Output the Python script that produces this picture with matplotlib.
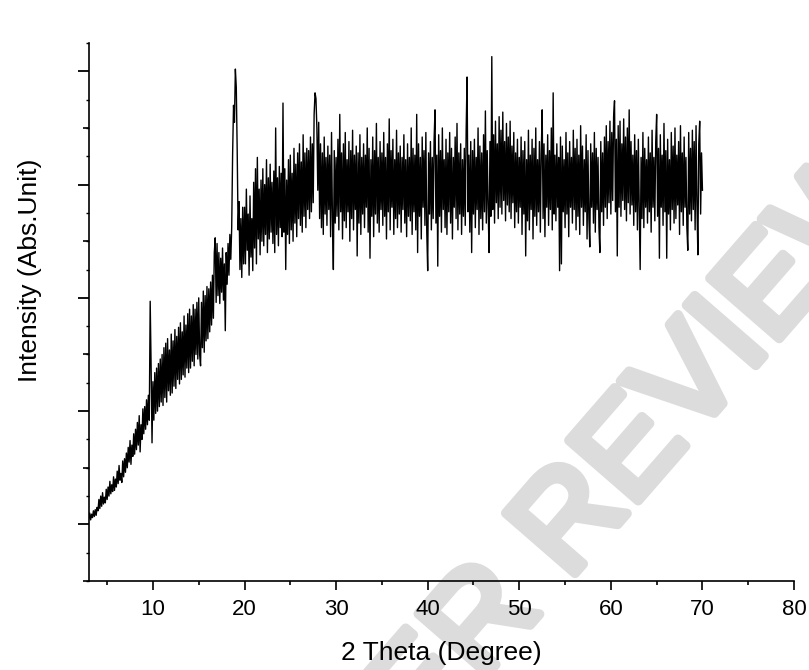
import matplotlib.pyplot as plt
import matplotlib.patheffects as pe
import numpy as np
from matplotlib.ticker import MultipleLocator, NullFormatter


# XRD scan, 2 theta from 3.0 deg in 0.1 deg steps
scan_start = 3.0
scan_step = 0.1

# 3.0 - 18.9 deg : rising amorphous background
intensity_rise = [
    1.05, 1.10, 1.04, 1.09, 1.06, 1.12, 1.07, 1.13, 1.08, 1.15,
    1.12, 1.22, 1.14, 1.25, 1.16, 1.28, 1.18, 1.24, 1.19, 1.31,
    1.22, 1.33, 1.25, 1.38, 1.27, 1.35, 1.29, 1.42, 1.30, 1.40,
    1.33, 1.47, 1.36, 1.52, 1.39, 1.45, 1.37, 1.56, 1.42, 1.58,
    1.46, 1.63, 1.50, 1.68, 1.55, 1.74, 1.53, 1.70, 1.60, 1.80,
    1.62, 1.84, 1.66, 1.90, 1.70, 1.96, 1.64, 1.88, 1.75, 2.02,
    1.80, 2.04, 1.84, 2.10, 1.88, 2.14, 1.92, 2.97, 2.40, 1.72,
    2.26, 1.92, 2.34, 1.98, 2.38, 2.00, 2.42, 2.04, 2.46, 2.08,
    2.50, 2.05, 2.56, 2.12, 2.60, 2.08, 2.64, 2.18, 2.54, 2.14,
    2.68, 2.16, 2.62, 2.22, 2.72, 2.20, 2.66, 2.28, 2.74, 2.24,
    2.78, 2.28, 2.70, 2.32, 2.84, 2.30, 2.76, 2.38, 2.86, 2.34,
    2.90, 2.38, 2.84, 2.44, 2.94, 2.40, 2.90, 2.50, 2.96, 2.46,
    3.00, 2.50, 2.40, 2.96, 2.56, 3.06, 2.52, 3.02, 2.62, 3.10,
    2.64, 3.08, 2.70, 3.14, 2.76, 3.20, 2.82, 3.40, 3.53, 2.96,
    3.48, 3.02, 3.40, 2.95, 3.35, 3.05, 3.44, 2.98, 3.30, 2.71,
    3.40, 3.12, 3.48, 3.20, 3.56, 3.34, 3.62, 4.27, 4.70, 4.55,
]

# 19.0 - 70.0 deg : peaks at ~19 and ~27.7 deg, then flat noisy plateau
intensity_plateau = [
    5.02, 4.86, 4.30, 3.60, 3.85, 3.25, 3.70, 3.18, 3.80, 3.30,
    3.80, 3.30, 3.96, 3.42, 3.74, 3.20, 3.90, 3.36, 3.70, 3.24,
    4.02, 3.44, 4.14, 3.30, 4.24, 3.52, 3.96, 3.38, 4.04, 3.50,
    4.14, 3.46, 4.00, 3.56, 4.22, 3.40, 4.06, 3.52, 4.18, 3.58,
    4.02, 3.48, 4.12, 3.40, 4.50, 3.56, 4.06, 3.46, 4.16, 3.62,
    4.10, 3.54, 4.72, 3.58, 4.14, 3.25, 4.04, 3.56, 4.22, 3.48,
    4.26, 3.60, 4.10, 3.50, 4.32, 3.66, 4.18, 3.54, 4.28, 3.70,
    4.36, 3.64, 4.20, 3.58, 4.44, 3.72, 4.28, 3.62, 4.32, 3.78,
    4.30, 3.70, 4.42, 3.76, 4.36, 3.84, 4.62, 4.81, 4.76, 4.50,
    3.95, 4.55, 3.70, 4.36, 3.62, 4.28, 3.56, 4.42, 3.74, 4.24,
    3.64, 4.34, 3.78, 4.26, 3.54, 4.46, 3.70, 3.25, 4.30, 3.66,
    4.24, 3.72, 4.40, 3.60, 4.62, 3.76, 4.28, 3.52, 4.36, 3.68,
    4.46, 3.62, 4.22, 3.76, 4.38, 3.50, 4.30, 3.70, 4.48, 3.60,
    4.26, 3.78, 4.34, 3.37, 4.28, 3.66, 4.44, 3.56, 4.24, 3.74,
    4.36, 3.62, 4.26, 3.80, 4.50, 3.58, 4.32, 3.35, 4.22, 3.72,
    4.42, 3.54, 4.30, 3.74, 4.54, 3.66, 4.24, 3.58, 4.38, 3.78,
    4.28, 3.64, 4.46, 3.72, 4.24, 3.52, 4.36, 3.76, 4.58, 3.60,
    4.30, 3.80, 4.40, 3.56, 4.22, 3.70, 4.48, 3.62, 4.28, 3.74,
    4.34, 3.58, 4.24, 3.78, 4.44, 3.66, 4.22, 3.54, 4.36, 3.72,
    4.24, 3.68, 4.50, 3.56, 4.32, 3.76, 4.26, 3.60, 4.62, 3.40,
    4.36, 3.72, 4.24, 3.52, 4.42, 3.80, 4.30, 3.64, 4.46, 3.58,
    3.24, 4.28, 3.74, 4.38, 3.60, 4.24, 3.70, 4.40, 4.66, 3.66,
    4.26, 3.28, 4.44, 3.72, 4.30, 3.58, 4.50, 3.78, 4.22, 3.62,
    4.40, 3.56, 4.28, 3.76, 4.46, 3.66, 4.32, 3.52, 4.24, 3.80,
    4.42, 3.70, 4.54, 3.60, 4.28, 3.74, 4.36, 3.56, 4.22, 3.72,
    4.32, 3.64, 4.48, 4.95, 3.76, 4.26, 3.58, 4.38, 3.40, 4.30,
    3.74, 4.40, 3.62, 4.24, 3.78, 4.50, 3.56, 4.34, 3.70, 4.28,
    3.60, 4.44, 3.76, 4.65, 3.66, 4.30, 3.80, 3.40, 4.38, 3.72,
    5.13, 3.78, 4.44, 3.66, 4.56, 3.84, 4.36, 3.70, 4.60, 3.80,
    4.48, 3.74, 4.64, 3.86, 4.38, 3.68, 4.54, 3.82, 4.42, 3.76,
    4.56, 3.70, 4.34, 3.84, 4.46, 3.62, 4.28, 3.76, 4.40, 3.66,
    4.24, 3.80, 4.42, 3.56, 4.30, 3.74, 4.38, 3.37, 4.22, 3.68,
    4.48, 3.60, 4.26, 3.78, 4.40, 3.52, 4.32, 3.72, 4.50, 3.64,
    4.22, 3.76, 4.38, 3.58, 4.28, 4.66, 3.70, 4.36, 3.54, 4.26,
    3.80, 4.44, 3.64, 4.30, 3.78, 4.50, 3.60, 4.81, 3.74, 4.26,
    3.68, 4.36, 3.80, 4.24, 3.24, 4.42, 3.30, 4.34, 3.76, 4.22,
    3.62, 4.46, 3.74, 4.28, 3.54, 4.38, 3.80, 4.24, 3.66, 4.48,
    3.78, 4.32, 3.60, 4.40, 3.72, 4.26, 3.56, 4.52, 3.80, 4.34,
    3.64, 4.22, 3.76, 4.44, 3.52, 4.30, 3.70, 3.45, 4.36, 3.80,
    4.28, 3.66, 4.46, 3.58, 4.32, 3.78, 4.24, 3.62, 3.40, 4.38,
    3.76, 4.28, 3.64, 4.42, 3.80, 4.52, 3.70, 4.38, 3.84, 4.56,
    3.74, 4.46, 3.86, 4.60, 4.74, 3.76, 4.40, 3.37, 4.52, 3.80,
    4.56, 3.72, 4.36, 3.86, 4.58, 3.78, 4.42, 3.68, 4.50, 3.84,
    4.66, 3.74, 4.38, 3.82, 4.26, 3.64, 4.44, 3.76, 4.30, 3.60,
    4.40, 3.78, 3.25, 4.24, 3.70, 4.46, 3.62, 4.32, 3.80, 4.22,
    3.66, 4.42, 3.76, 4.28, 3.58, 4.48, 3.80, 4.24, 3.68, 4.38,
    4.62, 3.72, 4.32, 3.35, 4.44, 3.80, 4.26, 3.64, 4.54, 3.76,
    4.30, 3.35, 4.40, 3.74, 4.22, 3.60, 4.46, 3.78, 4.34, 3.66,
    4.50, 3.70, 4.26, 3.82, 4.38, 3.56, 4.52, 3.76, 4.28, 3.64,
    4.42, 3.80, 4.24, 3.62, 3.42, 4.46, 3.74, 4.32, 3.68, 4.48,
    3.78, 4.38, 3.60, 4.52, 3.82, 3.38, 4.36, 4.56, 3.74, 4.28,
    3.95,
]

x_major = [10, 20, 30, 40, 50, 60, 70, 80]
x_label = "2 Theta (Degree)"
y_label = "Intensity (Abs.Unit)"
watermark = "PEER REVIEW"

intensity = np.array(intensity_rise + intensity_plateau)
two_theta = scan_start + scan_step * np.arange(len(intensity))

plt.rcParams['font.family'] = ['Liberation Sans', 'DejaVu Sans']

fig = plt.figure(figsize=(8.09, 6.70), dpi=100)

# watermark, drawn under everything else
fig.text(0.721, 0.237, watermark, rotation=49, fontsize=96, color='#dcdcdc',
         ha='center', va='center', zorder=-5,
         path_effects=[pe.withStroke(linewidth=7, foreground='#dcdcdc',
                                     capstyle='round', joinstyle='round')])

ax = fig.add_axes([0.1098, 0.1328, 0.8717, 0.8030])
ax.patch.set_alpha(0)
ax.plot(two_theta, intensity, color='black', lw=1.0)

ax.set_xlim(3, 80)
ax.set_ylim(0.5, 5.25)
for side in ['top', 'right']:
    ax.spines[side].set_visible(False)
for side in ['left', 'bottom']:
    ax.spines[side].set_linewidth(1.2)

ax.set_xticks(x_major)
ax.xaxis.set_minor_locator(MultipleLocator(5))
ax.yaxis.set_major_locator(MultipleLocator(1))
ax.yaxis.set_minor_locator(MultipleLocator(0.25))
ax.yaxis.set_major_formatter(NullFormatter())
ax.tick_params(axis='x', which='major', direction='out', length=6.5, width=1.2, pad=6.5, labelsize=16)
ax.tick_params(axis='x', which='minor', direction='out', length=3.2, width=1.2)
ax.tick_params(axis='y', which='major', direction='out', length=8, width=1.3)
ax.tick_params(axis='y', which='minor', direction='out', length=2, width=1.0)

# medium ticks at the half units on the y axis
half = ax.secondary_yaxis('left')
half.spines['left'].set_visible(False)
half.set_yticks(np.arange(0.5, 5.5, 1.0))
half.yaxis.set_major_formatter(NullFormatter())
half.tick_params(axis='y', direction='out', length=4, width=1.2)

ax.set_xlabel(x_label, fontsize=19, labelpad=15)
ax.set_ylabel(y_label, fontsize=19)
ax.yaxis.set_label_coords(-0.066, 0.578)

fig.savefig('out.png', dpi=100)
